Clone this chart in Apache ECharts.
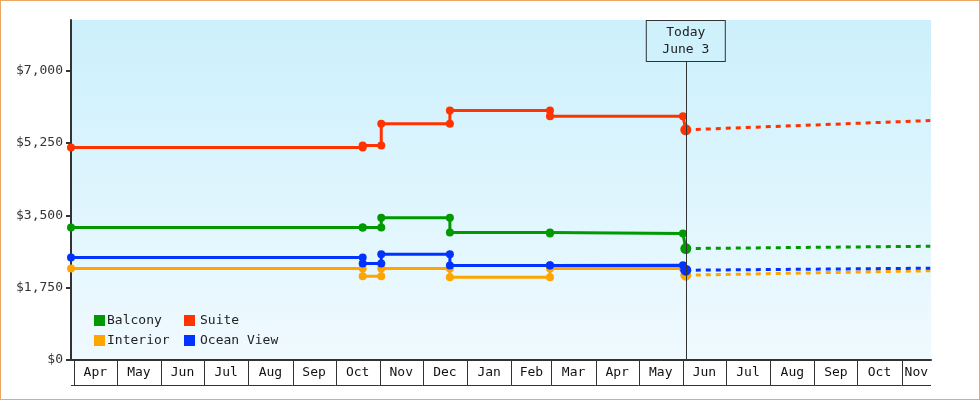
<!DOCTYPE html>
<html>
<head>
<meta charset="utf-8">
<script src="https://cdn.jsdelivr.net/npm/echarts@6.0.0/dist/echarts.min.js"></script>
<style>
    html, body { margin: 0; padding: 0; background: #fff; }
    #chart { width: 980px; height: 400px; box-sizing: border-box; border: 1px solid #eaa865; }
</style>
</head>
<body>
<div id="chart"></div>
<script>
var startDate = '2014-03-30';
var endDate = '2015-11-21';
var today = '2015-06-03';

// dates where fares changed, each price holds until the next date
var changeDates = ['2014-03-30', '2014-10-20', '2014-11-02', '2014-12-20', '2015-02-28', '2015-06-01'];
var balconyPrices = [3203, 3203, 3444, 3085, 3058];
var suitePrices = [5141, 5190, 5713, 6034, 5897];
var interiorPrices = [2213, 2028, 2213, 2003, 2213];
var oceanPrices = [2478, 2333, 2559, 2288, 2290];

// price today, then forecast at the end of the range
var balconyForecast = [2696, 2752];
var suiteForecast = [5568, 5793];
var interiorForecast = [2052, 2160];
var oceanForecast = [2172, 2221];

var yTicks = [0, 1750, 3500, 5250, 7000];
var monthLabels = ['Mar', 'Apr', 'May', 'Jun', 'Jul', 'Aug', 'Sep', 'Oct', 'Nov', 'Dec', 'Jan',
    'Feb', 'Mar', 'Apr', 'May', 'Jun', 'Jul', 'Aug', 'Sep', 'Oct', 'Nov'];

var fontMono = '"DejaVu Sans Mono", "Liberation Mono", monospace';

function toTime(s) {
    var p = s.split('-');
    return new Date(+p[0], +p[1] - 1, +p[2]).getTime();
}

function historyData(prices, todayPrice) {
    var result = [];
    for (var i = 0; i < prices.length; i++) {
        result.push([toTime(changeDates[i]), prices[i]]);
        result.push([toTime(changeDates[i + 1]), prices[i]]);
    }
    result.push([toTime(today), todayPrice]);
    return result;
}

function forecastData(f) {
    return [[toTime(today), f[0]], [toTime(endDate), f[1]]];
}

// month boxes below the axis, first month is March 2014
var monthData = [];
for (var m = 0; m < monthLabels.length; m++) {
    monthData.push([new Date(2014, 2 + m, 1).getTime(), new Date(2014, 3 + m, 1).getTime()]);
}

function renderMonth(params, api) {
    var cs = params.coordSys;
    var left = cs.x, right = cs.x + cs.width, bottom = cs.y + cs.height;
    var x0 = api.coord([api.value(0), 0])[0];
    var x1 = api.coord([api.value(1), 0])[0];
    var a = Math.max(x0, left), b = Math.min(x1, right);
    if (b <= a) return;
    var lineStyle = { stroke: '#333', lineWidth: 1 };
    var yb = Math.round(bottom + 25) + 0.5;
    var children = [{
        type: 'line',
        shape: { x1: a, y1: yb, x2: b, y2: yb },
        style: lineStyle
    }];
    if (x0 >= left) {
        var xs = Math.round(x0) + 0.5;
        children.push({
            type: 'line',
            shape: { x1: xs, y1: bottom, x2: xs, y2: yb },
            style: lineStyle
        });
        children.push({
            type: 'text',
            style: {
                text: monthLabels[params.dataIndex],
                x: (a + b) / 2,
                y: bottom + 13,
                align: 'center',
                verticalAlign: 'middle',
                fontSize: 13,
                fontFamily: fontMono,
                fill: '#111'
            }
        });
    }
    return { type: 'group', children: children };
}

function lineSeries(name, color, prices, forecast, extra) {
    var last = prices.length * 2;
    var hist = {
        name: name,
        type: 'line',
        data: historyData(prices, forecast[0]),
        color: color,
        symbol: 'circle',
        symbolSize: function(val, params) {
            return params.dataIndex === last ? 11 : 8;
        },
        showSymbol: true,
        lineStyle: { width: 3 },
        itemStyle: { color: color },
        silent: true
    };
    if (extra) {
        for (var k in extra) hist[k] = extra[k];
    }
    var fut = {
        name: name,
        type: 'line',
        data: forecastData(forecast),
        color: color,
        showSymbol: false,
        lineStyle: { width: 3, type: [5, 5] },
        silent: true
    };
    return [fut, hist];
}

var chart = echarts.init(document.getElementById('chart'));

var series = [].concat(
    lineSeries('Interior', '#ffa500', interiorPrices, interiorForecast),
    lineSeries('Ocean View', '#0033ff', oceanPrices, oceanForecast),
    lineSeries('Balcony', '#009900', balconyPrices, balconyForecast),
    lineSeries('Suite', '#ff3300', suitePrices, suiteForecast, {
        markLine: {
            silent: true,
            symbol: ['none', 'none'],
            lineStyle: { color: '#333', width: 1, type: 'solid' },
            label: {
                show: true,
                position: 'end',
                distance: -41,
                formatter: 'Today\nJune 3',
                color: '#222',
                fontFamily: fontMono,
                fontSize: 13,
                lineHeight: 17,
                width: 78,
                align: 'center',
                padding: [3, 0, 3, 0],
                backgroundColor: '#cff1fc',
                borderColor: '#333',
                borderWidth: 1
            },
            data: [{ xAxis: toTime(today) }]
        }
    }),
    [{
        name: 'months',
        type: 'custom',
        renderItem: renderMonth,
        data: monthData,
        encode: { x: [0, 1] },
        silent: true,
        clip: false
    }]
);

var option = {
    animation: false,
    backgroundColor: '#fff',
    textStyle: { fontFamily: fontMono },
    grid: {
        left: 70,
        right: 48,
        top: 19,
        bottom: 39,
        show: true,
        borderWidth: 0,
        backgroundColor: new echarts.graphic.LinearGradient(0, 0, 0, 1, [
            { offset: 0, color: '#ccf0fc' },
            { offset: 1, color: '#f0faff' }
        ])
    },
    legend: [{
        data: ['Balcony', 'Interior'],
        orient: 'vertical',
        left: 93,
        top: 313,
        padding: 0,
        itemWidth: 11,
        itemHeight: 11,
        itemGap: 7,
        icon: 'rect',
        selectedMode: false,
        textStyle: { fontFamily: fontMono, fontSize: 13, color: '#222', padding: [0, 0, 0, -3] }
    }, {
        data: ['Suite', 'Ocean View'],
        orient: 'vertical',
        left: 183,
        top: 313,
        padding: 0,
        itemWidth: 11,
        itemHeight: 11,
        itemGap: 7,
        icon: 'rect',
        selectedMode: false,
        textStyle: { fontFamily: fontMono, fontSize: 13, color: '#222' }
    }],
    xAxis: {
        type: 'time',
        min: toTime(startDate),
        max: toTime(endDate) + 12 * 3600 * 1000,
        axisLine: { show: true, lineStyle: { color: '#333', width: 2 } },
        axisTick: { show: false },
        axisLabel: { show: false },
        splitLine: { show: false }
    },
    yAxis: {
        type: 'value',
        min: 0,
        max: 8225,
        interval: 1750,
        axisLine: { show: true, lineStyle: { color: '#333', width: 2 } },
        axisTick: { show: true, length: 5, lineStyle: { color: '#333', width: 2 }, customValues: yTicks },
        axisLabel: {
            customValues: yTicks,
            margin: 8,
            color: '#333',
            fontFamily: fontMono,
            fontSize: 13,
            formatter: function(value) {
                return '$' + value.toLocaleString('en-US');
            }
        },
        splitLine: { show: false }
    },
    series: series
};

chart.setOption(option);
</script>
</body>
</html>
